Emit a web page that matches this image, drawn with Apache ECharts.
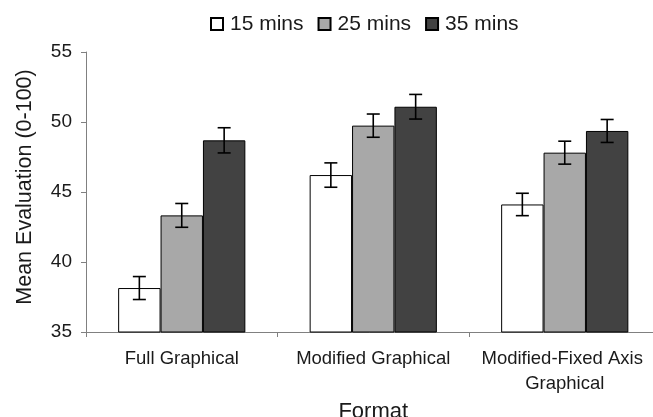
<!DOCTYPE html>
<html>
<head>
<meta charset="utf-8">
<script src="https://cdn.jsdelivr.net/npm/echarts@6/dist/echarts.min.js"></script>
<style>html,body{margin:0;padding:0;background:#fff}#c{width:653px;height:417px}</style>
</head>
<body>
<div id="c"></div>
<script>
var categories = ["Full Graphical", "Modified Graphical", "Modified-Fixed Axis Graphical"];
var seriesNames = ["15 mins", "25 mins", "35 mins"];
var mins15 = [38.14, 46.21, 44.11];
var mins25 = [43.33, 49.74, 47.81];
var mins35 = [48.69, 51.09, 49.36];
var err15 = [0.82, 0.87, 0.80];
var err25 = [0.85, 0.83, 0.82];
var err35 = [0.90, 0.88, 0.82];
var yTicks = [35, 40, 45, 50, 55];

var values = [mins15, mins25, mins35];
var errs = [err15, err25, err35];
var colors = ["#ffffff", "#a8a8a8", "#424242"];
var BAR_W = 42.4;
var FONT = "'Liberation Sans', Arial, sans-serif";

var chart = echarts.init(document.getElementById('c'), null, {renderer: 'canvas'});

var series = [];
values.forEach(function (vals, si) {
  series.push({
    name: seriesNames[si],
    type: 'bar',
    data: vals,
    barWidth: BAR_W,
    barGap: '0%',
    itemStyle: {color: colors[si], borderColor: '#000', borderWidth: 1},
    emphasis: {disabled: true},
    z: 2
  });
});
values.forEach(function (vals, si) {
  var data = vals.map(function (v, i) { return [i, v - errs[si][i], v + errs[si][i]]; });
  series.push({
    type: 'custom',
    name: seriesNames[si] + ' err',
    data: data,
    z: 5,
    silent: true,
    renderItem: function (params, api) {
      var cat = api.value(0);
      var lo = api.coord([cat, api.value(1)]);
      var hi = api.coord([cat, api.value(2)]);
      var x = lo[0] + (si - 1) * BAR_W;
      var cap = 6.5;
      var st = {stroke: '#000', lineWidth: 1.6};
      return {
        type: 'group',
        children: [
          {type: 'line', shape: {x1: x, y1: lo[1], x2: x, y2: hi[1]}, style: st},
          {type: 'line', shape: {x1: x - cap, y1: lo[1], x2: x + cap, y2: lo[1]}, style: st},
          {type: 'line', shape: {x1: x - cap, y1: hi[1], x2: x + cap, y2: hi[1]}, style: st}
        ]
      };
    }
  });
});

chart.setOption({
  animation: false,
  backgroundColor: '#fff',
  textStyle: {fontFamily: FONT, color: '#1a1a1a'},
  legend: {
    data: seriesNames,
    left: 210,
    top: 13.5,
    padding: 0,
    itemWidth: 12,
    itemHeight: 12,
    itemGap: 14,
    icon: 'rect',
    textStyle: {fontFamily: FONT, fontSize: 21, color: '#1a1a1a', padding: [0, 0, 0, 2]}
  },
  grid: {left: 86, right: -7.5, top: 52, bottom: 85, containLabel: false, outerBoundsMode: 'none'},
  xAxis: {
    type: 'category',
    data: categories,
    name: 'Format',
    nameLocation: 'middle',
    nameGap: 65,
    nameTextStyle: {fontFamily: FONT, fontSize: 22, color: '#1a1a1a'},
    axisLine: {lineStyle: {color: '#808080', width: 1}},
    axisTick: {show: true, length: 5, lineStyle: {color: '#808080'}},
    axisLabel: {
      interval: 0,
      margin: 14,
      fontFamily: FONT,
      fontSize: 18.5,
      color: '#1a1a1a',
      lineHeight: 25,
      width: 185,
      overflow: 'break'
    }
  },
  yAxis: {
    type: 'value',
    min: yTicks[0],
    max: yTicks[yTicks.length - 1],
    interval: 5,
    name: 'Mean Evaluation (0-100)',
    nameLocation: 'middle',
    nameGap: 50,
    nameTextStyle: {fontFamily: FONT, fontSize: 21.5, color: '#1a1a1a', padding: [0, 0, 0, 10]},
    axisLine: {show: true, lineStyle: {color: '#808080', width: 1}},
    axisTick: {show: true, length: 5, lineStyle: {color: '#808080'}},
    splitLine: {show: false},
    axisLabel: {margin: 14, fontFamily: FONT, fontSize: 19, color: '#1a1a1a'}
  },
  series: series
});
</script>
</body>
</html>
